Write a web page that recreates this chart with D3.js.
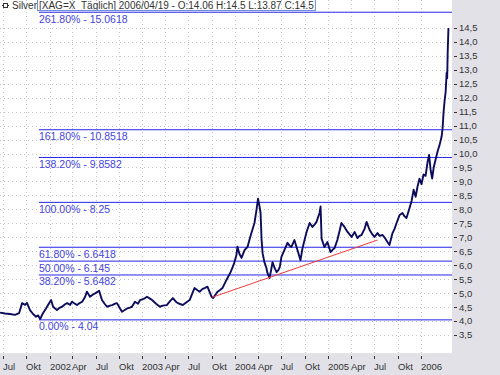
<!DOCTYPE html>
<html>
<head>
<meta charset="utf-8">
<script src="https://cdn.jsdelivr.net/npm/d3@7"></script>
<style>
body { margin: 0; background: #fff; }
text { font-family: "Liberation Sans", Arial, sans-serif; }
</style>
</head>
<body>
<svg id="chart" width="500" height="375"></svg>
<script>
var priceDates = ["2001-06-20","2001-07-10","2001-07-29","2001-08-18","2001-09-03","2001-09-15","2001-09-27","2001-10-04","2001-10-16","2001-10-28",
  "2001-11-09","2001-11-17","2001-11-25","2001-12-06","2001-12-18","2001-12-26","2002-01-07","2002-01-15","2002-01-30","2002-02-11",
  "2002-02-19","2002-03-03","2002-03-11","2002-03-23","2002-03-30","2002-04-11","2002-04-19","2002-05-01","2002-05-09","2002-05-20",
  "2002-05-28","2002-06-09","2002-06-21","2002-06-29","2002-07-15","2002-07-26","2002-08-07","2002-08-15","2002-08-27","2002-09-04",
  "2002-09-16","2002-09-23","2002-10-05","2002-10-13","2002-10-25","2002-11-02","2002-11-13","2002-11-21","2002-12-03","2002-12-15",
  "2002-12-23","2003-01-08","2003-01-19","2003-01-31","2003-02-08","2003-02-24","2003-03-11","2003-03-22","2003-04-07","2003-04-19",
  "2003-05-01","2003-05-12","2003-05-20","2003-06-01","2003-06-09","2003-06-25","2003-07-06","2003-07-17","2003-07-25","2003-08-06",
  "2003-08-14","2003-08-26","2003-09-03","2003-09-14","2003-09-22","2003-09-30","2003-10-06","2003-10-16","2003-10-24","2003-11-04",
  "2003-11-12","2003-11-24","2003-12-02","2003-12-14","2003-12-21","2003-12-29","2004-01-06","2004-01-10","2004-01-18","2004-01-26",
  "2004-02-07","2004-02-19","2004-02-26","2004-03-05","2004-03-17","2004-03-25","2004-03-31","2004-04-06","2004-04-10","2004-04-14",
  "2004-04-18","2004-04-25","2004-05-03","2004-05-07","2004-05-15","2004-05-21","2004-05-27","2004-06-04","2004-06-12","2004-06-19",
  "2004-06-25","2004-07-01","2004-07-13","2004-07-25","2004-08-02","2004-08-09","2004-08-21","2004-09-02","2004-09-14","2004-09-22",
  "2004-09-30","2004-10-08","2004-10-20","2004-10-31","2004-11-08","2004-11-16","2004-11-28","2004-12-02","2004-12-06","2004-12-17",
  "2004-12-29","2005-01-10","2005-01-18","2005-01-26","2005-02-06","2005-02-14","2005-02-22","2005-03-06","2005-03-18","2005-03-26",
  "2005-04-03","2005-04-15","2005-04-26","2005-05-04","2005-05-12","2005-05-24","2005-06-01","2005-06-13","2005-06-24","2005-07-02",
  "2005-07-14","2005-07-22","2005-08-03","2005-08-14","2005-08-22","2005-08-30","2005-09-11","2005-09-19","2005-09-27","2005-10-09",
  "2005-10-20","2005-10-28","2005-11-05","2005-11-17","2005-11-25","2005-12-03","2005-12-11","2005-12-18","2005-12-26","2006-01-03",
  "2006-01-11","2006-01-19","2006-01-27","2006-02-02","2006-02-08","2006-02-14","2006-02-20","2006-02-28","2006-03-08","2006-03-15",
  "2006-03-23","2006-03-27","2006-03-31","2006-04-04","2006-04-08","2006-04-12","2006-04-14","2006-04-16","2006-04-19"];
var priceValues = [4.30,4.27,4.25,4.22,4.28,4.64,4.58,4.65,4.39,4.25,
  4.15,4.20,4.07,4.28,4.45,4.57,4.75,4.51,4.39,4.48,
  4.51,4.60,4.64,4.58,4.69,4.62,4.57,4.65,4.69,4.85,
  5.05,4.87,4.95,4.99,5.08,4.75,4.60,4.51,4.55,4.57,
  4.62,4.64,4.45,4.33,4.40,4.45,4.48,4.51,4.69,4.62,
  4.75,4.80,4.87,4.80,4.75,4.62,4.51,4.55,4.57,4.70,
  4.82,4.70,4.64,4.60,4.57,4.68,4.75,5.00,5.18,5.10,
  5.05,5.15,5.18,5.23,5.05,4.87,4.82,4.95,5.05,5.12,
  5.18,5.40,5.54,5.75,5.90,6.10,6.36,6.66,6.40,6.26,
  6.54,6.66,6.90,7.15,7.51,7.98,8.38,8.10,7.87,6.90,
  6.43,6.11,5.90,5.72,5.54,5.80,6.11,5.90,5.75,5.82,
  5.95,6.30,6.55,6.80,6.70,6.65,6.90,6.54,6.18,6.61,
  6.90,7.19,7.51,7.37,7.45,7.55,7.87,8.10,6.95,6.65,
  6.83,6.47,6.55,6.61,6.90,7.20,7.51,7.37,7.19,7.10,
  7.01,7.19,6.97,7.05,7.08,7.30,7.55,7.26,7.10,7.01,
  7.15,7.05,7.08,6.95,6.83,6.72,7.15,7.30,7.51,7.80,
  7.87,7.75,7.69,8.05,8.30,8.70,8.45,8.80,9.10,8.90,
  9.25,9.20,9.70,9.95,9.40,9.10,9.50,9.80,10.10,10.30,
  10.60,10.90,11.50,11.90,12.20,12.90,12.70,13.60,14.50];

// fibonacci retracement from the Nov 2001 low
var fibStart = "2001-11-20";
var fibPercents = ["0.00%","38.20%","50.00%","61.80%","100.00%","138.20%","161.80%","261.80%"];
var fibValues = [4.04,5.6482,6.145,6.6418,8.25,9.8582,10.8518,15.0618];

// support trend line
var trendDates = ["2003-10-03","2005-07-14"];
var trendValues = [4.85,6.90];

var yTicks = [3.5,4.0,4.5,5.0,5.5,6.0,6.5,7.0,7.5,8.0,8.5,9.0,9.5,10.0,10.5,11.0,11.5,12.0,12.5,13.0,13.5,14.0,14.5];
var quarterNames = ["", "Apr", "Jul", "Okt"];
var titleName = "Silver";
var titleInfo = "[XAG=X_T\u00e4glich] 2006/04/19 - O:14.06 H:14.5 L:13.87 C:14.5";

var W = 500, H = 375, plotW = 452, plotH = 353;
var parse = d3.timeParse("%Y-%m-%d");
var svg = d3.select("#chart");

var x = d3.scaleTime().domain([parse("2001-06-20"), parse("2006-05-03")]).range([0, plotW]);
var y = d3.scaleLinear().domain([2.853, 15.5]).range([plotH, 0]);

// panels
svg.append("rect").attr("width", W).attr("height", H).attr("fill", "#e1e1e7");
svg.append("rect").attr("width", plotW).attr("height", plotH).attr("fill", "#fff");

var xTicks = d3.timeMonth.every(3).range(parse("2001-07-01"), parse("2006-01-02"));

// dotted grid
var grid = svg.append("g").attr("stroke", "#c4c4c4").attr("stroke-dasharray", "1,3");
grid.selectAll(".gx").data(xTicks).enter().append("line")
    .attr("x1", function (d) { return Math.round(x(d)) + 0.5; })
    .attr("x2", function (d) { return Math.round(x(d)) + 0.5; })
    .attr("y1", 0).attr("y2", plotH);
grid.selectAll(".gy").data(yTicks).enter().append("line")
    .attr("x1", 0).attr("x2", plotW)
    .attr("y1", function (d) { return Math.round(y(d)) + 0.5; })
    .attr("y2", function (d) { return Math.round(y(d)) + 0.5; });

// fibonacci levels
var fib = svg.append("g");
var fx = x(parse(fibStart));
fib.selectAll("line").data(fibValues).enter().append("line")
    .attr("x1", fx).attr("x2", plotW)
    .attr("y1", function (d) { return y(d); })
    .attr("y2", function (d) { return y(d); })
    .attr("stroke", "#2424ea").attr("stroke-width", 1);
fib.selectAll("text").data(fibValues).enter().append("text")
    .attr("x", fx).attr("y", function (d) { return y(d) + 10.5; })
    .attr("font-size", "10.5px").attr("fill", "#4444de")
    .text(function (d, i) { return fibPercents[i] + " - " + d; });

// price line
var series = priceDates.map(function (d, i) { return { date: parse(d), value: priceValues[i] }; });
svg.append("path").datum(series)
    .attr("fill", "none").attr("stroke", "#0c0c5c").attr("stroke-width", 1.9).attr("stroke-linejoin", "round")
    .attr("d", d3.line().x(function (d) { return x(d.date); }).y(function (d) { return y(d.value); }));

// trend line
svg.append("line")
    .attr("x1", x(parse(trendDates[0]))).attr("y1", y(trendValues[0]))
    .attr("x2", x(parse(trendDates[1]))).attr("y2", y(trendValues[1]))
    .attr("stroke", "#f03c3c").attr("stroke-width", 1);

// right axis
var ya = svg.append("g");
ya.selectAll("line").data(yTicks).enter().append("line")
    .attr("x1", plotW + 2).attr("x2", plotW + 5)
    .attr("y1", function (d) { return Math.round(y(d)) + 0.5; })
    .attr("y2", function (d) { return Math.round(y(d)) + 0.5; })
    .attr("stroke", "#333");
ya.selectAll("text").data(yTicks).enter().append("text")
    .attr("x", plotW + 7).attr("y", function (d) { return y(d) + 3.5; })
    .attr("font-size", "9.5px").attr("fill", "#333")
    .text(function (d) { return d3.format(".1f")(d).replace(".", ","); });

// bottom axis
var xa = svg.append("g");
xa.selectAll("line").data(xTicks).enter().append("line")
    .attr("x1", function (d) { return Math.round(x(d)) + 0.5; })
    .attr("x2", function (d) { return Math.round(x(d)) + 0.5; })
    .attr("y1", plotH + 3).attr("y2", plotH + 6)
    .attr("stroke", "#333");
xa.selectAll("text").data(xTicks).enter().append("text")
    .attr("x", function (d) { return Math.round(x(d)); })
    .attr("y", plotH + 17)
    .attr("font-size", "9.5px").attr("fill", "#333")
    .text(function (d) { var m = d.getMonth(); return m === 0 ? d.getFullYear() : quarterNames[m / 3]; });

// title
var t = svg.append("g");
t.append("line").attr("x1", 2).attr("x2", 9).attr("y1", 5.5).attr("y2", 5.5).attr("stroke", "#333");
t.append("rect").attr("x", 3.5).attr("y", 3.5).attr("width", 4).attr("height", 4).attr("fill", "#fff").attr("stroke", "#333");
t.append("text").attr("x", 12).attr("y", 9).attr("font-size", "10px").attr("fill", "#333").text(titleName);
var info = t.append("text").attr("x", 39).attr("y", 9).attr("font-size", "10px").attr("fill", "#333").text(titleInfo);
var bw = info.node().getComputedTextLength();
t.append("rect").attr("x", 37.5).attr("y", -1.5).attr("width", bw + 3).attr("height", 12)
    .attr("fill", "none").attr("stroke", "#6d8ee0");
</script>
</body>
</html>
